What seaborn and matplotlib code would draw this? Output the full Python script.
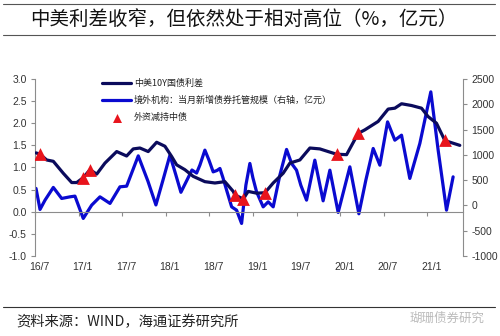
import matplotlib
matplotlib.use("Agg")
import matplotlib.pyplot as plt
import matplotlib.transforms as mtransforms
import seaborn as sns
import pandas as pd

# ---- data (x = months since 2016-07) ----
spread_t = [0.14, 0.69, 1.61, 2.52, 3.89, 5.05, 5.74, 6.64, 7.57, 8.49, 9.63, 11.24, 12.61,
            13.52, 14.44, 15.58, 16.74, 17.88, 18.80, 19.49, 20.63, 21.77, 23.38, 24.76,
            26.13, 27.28, 27.51, 28.65, 29.34, 30.50, 31.64, 32.78, 34.15, 35.08, 36.45,
            37.83, 39.20, 40.34, 41.50, 42.88, 44.47, 45.39, 47.22, 48.60, 49.52, 50.44,
            51.82, 53.19, 54.10, 55.25, 56.40, 57.32, 58.46]
spread_v = [1.33, 1.30, 1.17, 1.14, 0.87, 0.66, 0.66, 0.77, 0.95, 0.85, 1.10, 1.36, 1.26,
            1.42, 1.44, 1.36, 1.57, 1.48, 1.25, 1.06, 0.95, 0.80, 0.68, 0.65,
            0.68, 0.46, 0.38, 0.29, 0.46, 0.42, 0.43, 0.65, 0.87, 1.10, 1.17,
            1.44, 1.42, 1.36, 1.30, 1.29, 1.77, 1.85, 2.04, 2.32, 2.34, 2.44,
            2.40, 2.34, 2.15, 2.00, 1.61, 1.56, 1.50]

custody_t = [0.14, 0.69, 1.38, 2.52, 3.67, 4.81, 5.50, 6.64, 7.80, 8.94, 10.32, 11.69, 12.61,
             14.21, 15.54, 16.64, 17.61, 18.57, 19.39, 20.08, 20.91, 21.60, 22.24, 22.70,
             23.38, 23.93, 24.52, 25.03, 25.45, 25.86, 26.37, 27.06, 27.74, 28.43, 29.02,
             29.57, 29.98, 30.49, 31.40, 32.09, 32.78, 33.70, 34.62, 35.31, 35.99, 36.58,
             37.37, 38.51, 39.65, 40.58, 41.72, 43.33, 44.57, 45.53, 46.54, 47.46, 48.52,
             49.52, 50.44, 51.58, 52.96, 54.47, 55.48, 56.63, 57.54]
custody_v = [336, -79, 105, 356, 138, 170, 184, -257, 6, 170, 40, 368, 381,
             980, 480, 10, 500, 994, 600, 260, 500, 700, 640, 800,
             1093, 900, 664, 690, 731, 550, 302, -28, -93, -356, 400,
             830, 550, 269, -28, 71, -28, 600, 1107, 830, 697, 400,
             105, 895, 91, 697, -138, 763, -165, 500, 1126, 796, 1652,
             1290, 1389, 534, 1225, 2245, 1093, -93, 565]

sell_t = [0.69, 6.64, 7.57, 27.51, 28.65, 31.64, 41.50, 44.47, 56.40]
sell_v = [1.30, 0.77, 0.95, 0.38, 0.29, 0.43, 1.30, 1.77, 1.61]

tick_pos = [0, 6, 12, 18, 24, 30, 36, 42, 48, 54]
tick_lab = ["16/7", "17/1", "17/7", "18/1", "18/7", "19/1", "19/7", "20/1", "20/7", "21/1"]

name_spread = "中美10Y国债利差"
name_custody = "境外机构：当月新增债券托管规模（右轴，亿元）"
name_sell = "外资减持中债"

# ---- style ----
sns.set_style("white")
plt.rcParams['font.family'] = ['Liberation Sans', 'Noto Sans CJK SC', 'DejaVu Sans']

fig = plt.figure(figsize=(5.0, 3.36), dpi=100)
ax = fig.add_axes([0.07, 0.238, 0.856, 0.527])
ax2 = ax.twinx()

df1 = pd.DataFrame({"t": spread_t, "v": spread_v})
df2 = pd.DataFrame({"t": custody_t, "v": custody_v})
df3 = pd.DataFrame({"t": sell_t, "v": sell_v})

navy = "#0b0b5c"
blue = "#0a0ad0"
red = "#e8141c"

sns.lineplot(data=df2, x="t", y="v", ax=ax2, color=blue, lw=2.3, label=name_custody,
             legend=False, solid_joinstyle="round", solid_capstyle="round", zorder=2)
sns.lineplot(data=df1, x="t", y="v", ax=ax, color=navy, lw=2.3, label=name_spread,
             legend=False, solid_joinstyle="round", zorder=3)
sns.scatterplot(data=df3, x="t", y="v", ax=ax, marker="^", s=85, color=red,
                edgecolor=red, linewidth=0, label=name_sell, legend=False, zorder=4)

# draw primary axis above secondary
ax.set_zorder(ax2.get_zorder() + 1)
ax.patch.set_visible(False)

ax.set_xlim(0, 58.9)
ax.set_ylim(-1.0, 3.0)
ax2.set_ylim(-1000, 2500)
ax.set_yticks([-1.0, -0.5, 0.0, 0.5, 1.0, 1.5, 2.0, 2.5, 3.0])
ax.set_yticklabels([f"{v:.1f}" for v in [-1.0, -0.5, 0.0, 0.5, 1.0, 1.5, 2.0, 2.5, 3.0]])
ax2.set_yticks([-1000, -500, 0, 500, 1000, 1500, 2000, 2500])
ax2.set_yticklabels(["-1000", "-500", "0", "500", "1000", "1500", "2000", "2500"])
ax.set_xticks(tick_pos)
ax.set_xticklabels(tick_lab)
ax.set_xlabel("")
ax.set_ylabel("")
ax2.set_ylabel("")
ax2.set_xlabel("")

gray = "#8c8c8c"
txt = "#333333"
for a in (ax, ax2):
    for s in a.spines.values():
        s.set_visible(False)
ax.spines['left'].set_visible(True)
ax.spines['left'].set_color(gray)
ax.spines['left'].set_linewidth(0.8)
ax2.spines['right'].set_visible(True)
ax2.spines['right'].set_color(gray)
ax2.spines['right'].set_linewidth(0.8)
ax.spines['bottom'].set_visible(True)
ax.spines['bottom'].set_position(('data', 0))
ax.spines['bottom'].set_color(gray)
ax.spines['bottom'].set_linewidth(0.8)

ax.tick_params(axis='y', direction='out', length=3, width=0.8, color=gray,
               labelsize=7.5, labelcolor=txt, pad=3, left=True)
ax2.tick_params(axis='y', direction='out', length=3, width=0.8, color=gray,
                labelsize=7.5, labelcolor=txt, pad=3, right=True)
ax.tick_params(axis='x', direction='out', length=3, width=0.8, color=gray,
               labelsize=7.5, labelcolor=txt, pad=33, bottom=True)
offset = mtransforms.ScaledTranslation(4 / 100, 0, fig.dpi_scale_trans)
for lbl in ax.get_xticklabels():
    lbl.set_transform(lbl.get_transform() + offset)
ax.grid(False)
ax2.grid(False)

# legend
h1, l1 = ax.get_legend_handles_labels()
h2, l2 = ax2.get_legend_handles_labels()
handles = [h1[0], h2[0], h1[1]]
labels = [l1[0], l2[0], l1[1]]
leg = ax.legend(handles, labels, loc='upper left', bbox_to_anchor=(0.145, 1.03),
                frameon=False, handlelength=3.2, handletextpad=0.3,
                labelspacing=0.85, borderaxespad=0.2, markerscale=0.7,
                prop={'family': ['Noto Sans CJK SC', 'DejaVu Sans'], 'size': 6.5})
for t in leg.get_texts():
    t.set_color("#222222")

# title, rules and source
fig.lines.append(plt.Line2D([0.006, 0.99], [1 - 4 / 336, 1 - 4 / 336],
                            transform=fig.transFigure, color="#555555", lw=0.8))
fig.lines.append(plt.Line2D([0.006, 0.99], [1 - 35 / 336, 1 - 35 / 336],
                            transform=fig.transFigure, color="#555555", lw=0.8))
fig.lines.append(plt.Line2D([0.006, 0.99], [1 - 307 / 336, 1 - 307 / 336],
                            transform=fig.transFigure, color="#333333", lw=0.8))
fig.text(0.06, 1 - 19 / 336, "中美利差收窄，但依然处于相对高位（%，亿元）",
         fontsize=14, color="#111111", va='center', ha='left',
         family=['Noto Sans CJK SC', 'DejaVu Sans'])
fig.text(0.032, 1 - 322 / 336, "资料来源：WIND，海通证券研究所",
         fontsize=10.3, color="#222222", va='center', ha='left',
         family=['Noto Sans CJK SC', 'DejaVu Sans'])
fig.text(0.97, 1 - 318 / 336, "瑚珊债券研究",
         fontsize=9, color="#bbbbbb", va='center', ha='right',
         family=['Noto Sans CJK SC', 'DejaVu Sans'])

fig.savefig("out.png", dpi=100)
